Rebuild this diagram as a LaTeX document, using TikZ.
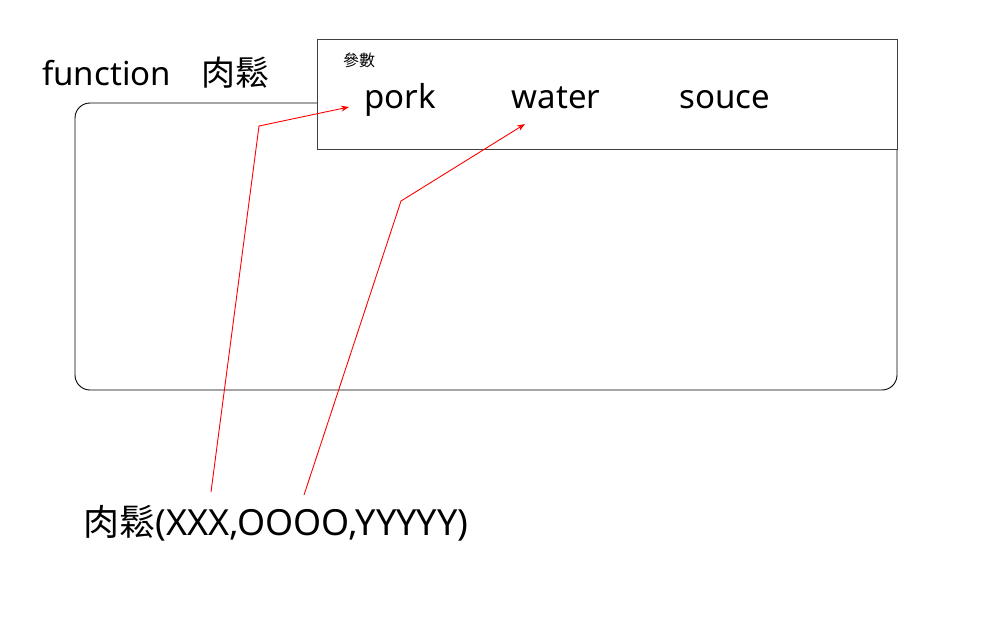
\documentclass[tikz,border=0pt]{standalone}
\usepackage{fontspec}
\setmainfont{Noto Sans}
\newfontfamily\cjk{Noto Sans CJK TC}
\usetikzlibrary{arrows.meta}
\tikzset{
  param/.style={anchor=base,font=\fontsize{33}{38}\selectfont},
  link/.style={red,line width=0.9pt,-{Stealth[length=8pt,width=6pt]}}
}
\begin{document}
\begin{tikzpicture}[x=1pt,y=-1pt]
\useasboundingbox (0,0) rectangle (993,622);

% Function body
\draw[line width=0.9pt,rounded corners=15pt] (75,103) rectangle (897,390);
\node[anchor=base west,inner sep=0pt,font=\fontsize{33}{38}\selectfont] (title) at (42,85) {function\hspace{31pt}{\cjk\fontsize{34}{38}\selectfont 肉鬆}};

% Parameter box
\draw[line width=0.9pt,draw=black!75,fill=white] (317,39) rectangle (897,149);
\node[anchor=base west,inner sep=0pt,font=\cjk\fontsize{16}{18}\selectfont] (args) at (343,66) {參數};
\node[param] (pork) at (400,108) {pork};
\node[param] (water) at (556,108) {water};
\node[param] (souce) at (725,108) {souce};

% Call
\node[anchor=base west,inner sep=0pt,font=\fontsize{36}{42}\selectfont] (call) at (83,535) {{\cjk 肉鬆}(XXX,OOOO,YYYYY)};

% Arguments passed in
\coordinate (xxx) at (211,492);
\coordinate (oooo) at (304,495);
\coordinate (toPork) at (349,107);
\coordinate (toWater) at (525,124);
\draw[link] (xxx) -- (259,126) -- (toPork);
\draw[link] (oooo) -- (401,201) -- (toWater);
\end{tikzpicture}
\end{document}
